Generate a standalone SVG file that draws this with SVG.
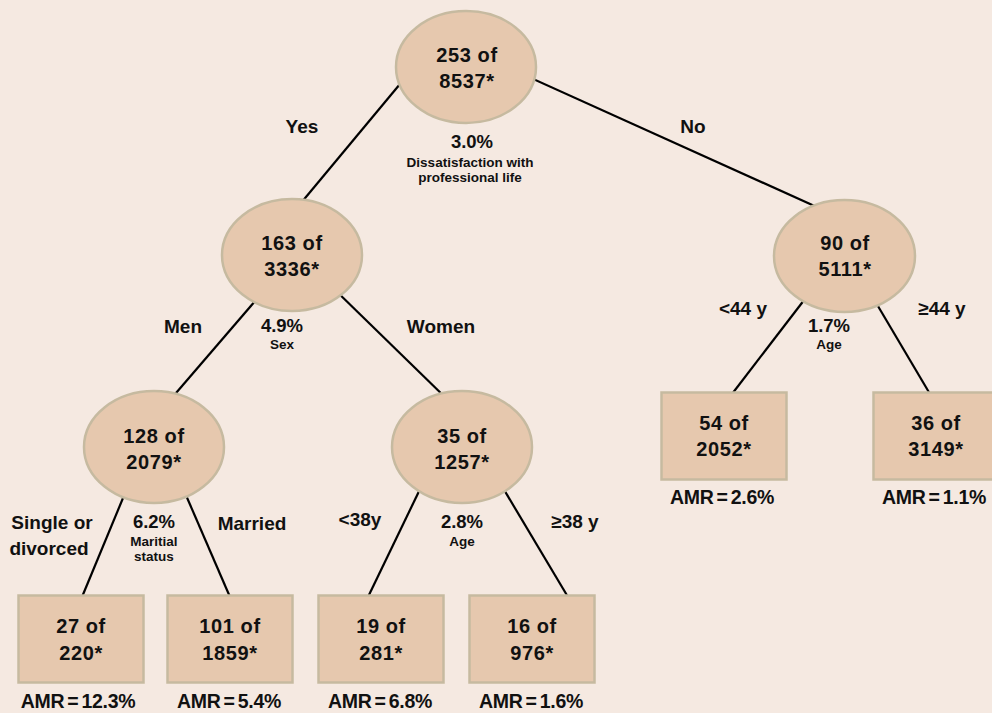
<svg xmlns="http://www.w3.org/2000/svg" width="992" height="713" viewBox="0 0 992 713">
<style>
.bg{fill:#f5e9e1}
.node{fill:#e6c8ae;stroke:#c6baa0;stroke-width:2.5}
.edge{stroke:#000;stroke-width:2.2;fill:none}
text{font-family:"Liberation Sans",Arial,sans-serif;font-weight:bold;fill:#111;text-anchor:middle}
.n{font-size:20px;letter-spacing:0.6px}
.b{font-size:20px;letter-spacing:0.6px}
.l{font-size:19px}
.s{font-size:13.5px}
.p{font-size:18.5px}
.amr{font-size:19.5px;letter-spacing:-0.3px;word-spacing:-2px}
</style>
<rect class="bg" x="0" y="0" width="992" height="713"/>
<g id="connectors">
<line class="edge" x1="420" y1="60" x2="291" y2="215"/>
<line class="edge" x1="500" y1="64" x2="830" y2="213"/>
<line class="edge" x1="262" y1="293" x2="170" y2="400"/>
<line class="edge" x1="330" y1="285" x2="450" y2="402"/>
<line class="edge" x1="128" y1="486" x2="82" y2="597"/>
<line class="edge" x1="182" y1="486" x2="230" y2="597"/>
<line class="edge" x1="423" y1="483" x2="368" y2="597"/>
<line class="edge" x1="500" y1="483" x2="568" y2="597"/>
<line class="edge" x1="808" y1="295" x2="732" y2="394"/>
<line class="edge" x1="872" y1="296" x2="930" y2="394"/>
</g>
<g id="root"><ellipse class="node" cx="466" cy="67" rx="70" ry="56"/><text class="n" x="467" y="62">253 of</text><text class="n" x="467" y="88">8537*</text></g>
<g id="n163"><ellipse class="node" cx="292" cy="255" rx="70" ry="56"/><text class="n" x="292" y="250">163 of</text><text class="n" x="292" y="276">3336*</text></g>
<g id="n90"><ellipse class="node" cx="844.5" cy="256" rx="70.5" ry="56"/><text class="n" x="845" y="250">90 of</text><text class="n" x="845" y="276">5111*</text></g>
<g id="n128"><ellipse class="node" cx="154" cy="447" rx="70" ry="56"/><text class="n" x="154" y="443">128 of</text><text class="n" x="154" y="469">2079*</text></g>
<g id="n35"><ellipse class="node" cx="462" cy="447" rx="70" ry="56"/><text class="n" x="462" y="443">35 of</text><text class="n" x="462" y="469">1257*</text></g>
<g id="b27"><rect class="node" x="18.5" y="595.5" width="125" height="87"/><text class="b" x="81" y="633">27 of</text><text class="b" x="81" y="660">220*</text><text class="amr" x="78" y="708">AMR = 12.3%</text></g>
<g id="b101"><rect class="node" x="167.5" y="595.5" width="125" height="87"/><text class="b" x="230" y="633">101 of</text><text class="b" x="230" y="660">1859*</text><text class="amr" x="229" y="708">AMR = 5.4%</text></g>
<g id="b19"><rect class="node" x="318.5" y="595.5" width="125" height="87"/><text class="b" x="381" y="633">19 of</text><text class="b" x="381" y="660">281*</text><text class="amr" x="380" y="708">AMR = 6.8%</text></g>
<g id="b16"><rect class="node" x="469.5" y="595.5" width="125" height="87"/><text class="b" x="532" y="633">16 of</text><text class="b" x="532" y="660">976*</text><text class="amr" x="531" y="708">AMR = 1.6%</text></g>
<g id="b54"><rect class="node" x="661.5" y="392.5" width="125" height="87"/><text class="b" x="724" y="430">54 of</text><text class="b" x="724" y="456">2052*</text><text class="amr" x="722" y="504">AMR = 2.6%</text></g>
<g id="b36"><rect class="node" x="873.5" y="392.5" width="125" height="87"/><text class="b" x="936" y="430">36 of</text><text class="b" x="936" y="456">3149*</text><text class="amr" x="934" y="504">AMR = 1.1%</text></g>
<g id="labels">
<text class="l" x="302" y="133">Yes</text>
<text class="l" x="693" y="133">No</text>
<text class="p" x="472" y="148">3.0%</text>
<text class="s" x="470" y="167">Dissatisfaction with</text>
<text class="s" x="470" y="182">professional life</text>
<text class="l" x="183" y="333">Men</text>
<text class="l" x="441" y="333">Women</text>
<text class="p" x="282" y="332">4.9%</text>
<text class="s" x="282" y="349">Sex</text>
<text class="l" x="52" y="529">Single or</text>
<text class="l" x="49" y="555">divorced</text>
<text class="p" x="154" y="528">6.2%</text>
<text class="s" x="154" y="546">Maritial</text>
<text class="s" x="154" y="561">status</text>
<text class="l" x="252" y="530">Married</text>
<text class="l" x="360" y="526">&lt;38y</text>
<text class="p" x="462" y="528">2.8%</text>
<text class="s" x="462" y="546">Age</text>
<text class="l" x="575" y="528">≥38 y</text>
<text class="l" x="743" y="315">&lt;44 y</text>
<text class="l" x="942" y="315">≥44 y</text>
<text class="p" x="829" y="332">1.7%</text>
<text class="s" x="829" y="349">Age</text>
</g>
</svg>
